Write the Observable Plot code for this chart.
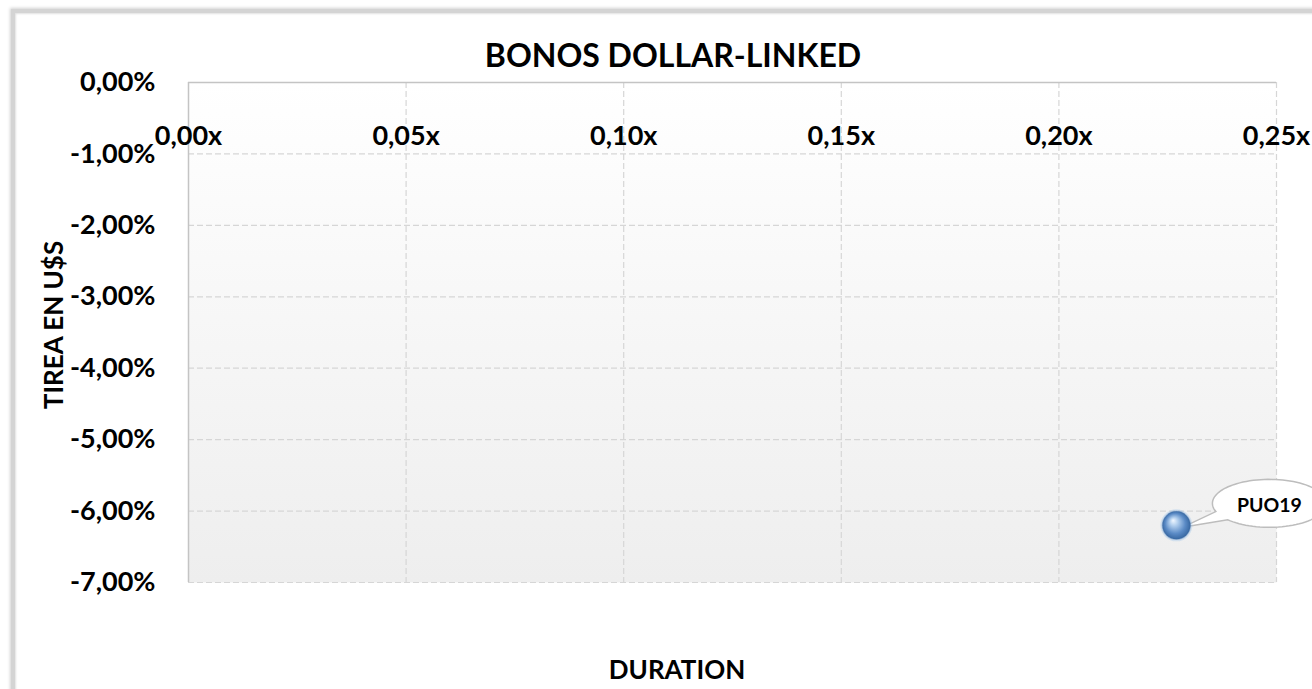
<!DOCTYPE html>
<html>
<head>
<meta charset="utf-8">
<script src="https://cdn.jsdelivr.net/npm/d3@7"></script>
<script src="https://cdn.jsdelivr.net/npm/@observablehq/plot@0.6"></script>
<style>
  html, body { margin: 0; padding: 0; background: #fff; overflow: hidden; }
  body { width: 1312px; height: 689px; position: relative; font-family: Lato, "Open Sans", sans-serif; }
  #border { position: absolute; left: 11px; top: 9px; width: 1400px; height: 800px;
            border-left: 4px solid #d4d4d4; border-top: 4px solid #d4d4d4;
            box-shadow: -1px -1px 3px rgba(0,0,0,0.18), inset 1px 1px 2px rgba(0,0,0,0.12); }
  #chart { position: absolute; left: 0; top: 0; }
  .lbl { position: absolute; font-weight: 700; color: #000; line-height: 1; white-space: nowrap;
         transform: translate(-50%, -50%); }
</style>
</head>
<body>
<div id="border"></div>
<div id="chart"></div>
<div class="lbl" style="left:673px; top:55px; font-size:32px;">BONOS DOLLAR-LINKED</div>
<div class="lbl" style="left:53px; top:325px; font-size:26px; transform: translate(-50%, -50%) rotate(-90deg);">TIREA EN U$S</div>
<div class="lbl" style="left:677px; top:669px; font-size:26px;">DURATION</div>
<script>
// ---- data ----
const bondNames = ["PUO19"];
const durations = [0.227];
const tireas = [-6.20];
const xTicks = [0, 0.05, 0.10, 0.15, 0.20, 0.25];
const yTicks = [0, -1, -2, -3, -4, -5, -6, -7];

const bonds = bondNames.map((n, i) => ({ name: n, duration: durations[i], tirea: tireas[i] }));

const fmtX = d => d.toFixed(2).replace(".", ",") + "x";
const fmtY = d => d.toFixed(2).replace(".", ",") + "%";

// callout bubble (ellipse + pointer) drawn relative to the point
const callout = {
  draw(ctx) {
    const cx = 93, cy = -22, rx = 57, ry = 24;
    const a0 = 160 * Math.PI / 180, a1 = 497 * Math.PI / 180;
    ctx.moveTo(6, 2);
    const n = 90;
    for (let i = 0; i <= n; i++) {
      const a = a0 + (a1 - a0) * i / n;
      ctx.lineTo(cx + rx * Math.cos(a), cy + ry * Math.sin(a));
    }
    ctx.closePath();
  }
};

const gridStyle = { stroke: "#d6d6d6", strokeWidth: 1.2, strokeDasharray: "6,3" };

const plot = Plot.plot({
  width: 1312,
  height: 689,
  marginLeft: 188,
  marginRight: 36,
  marginTop: 82,
  marginBottom: 107,
  style: { fontFamily: "Lato, 'Open Sans', sans-serif", background: "transparent", overflow: "hidden" },
  x: { domain: [0, 0.25] },
  y: { domain: [-7, 0] },
  marks: [
    Plot.frame({ fill: "url(#bgGrad)", stroke: "none" }),
    Plot.ruleX(xTicks.filter(d => d !== 0), gridStyle),
    Plot.ruleY(yTicks.filter(d => d !== 0), gridStyle),
    Plot.ruleY([0], { stroke: "#c4c4c4", strokeWidth: 1.5 }),
    Plot.ruleX([0], { stroke: "#c4c4c4", strokeWidth: 1.5 }),
    Plot.axisY(yTicks, { anchor: "left", tickSize: 0, tickPadding: 33, tickFormat: fmtY,
      fontSize: 27, fontWeight: "bold", fill: "#000", label: null }),
    Plot.axisX({ ticks: [], label: null }),
    Plot.text(xTicks, { x: d => d, frameAnchor: "top", dy: 43, text: fmtX,
      fontSize: 27, fontWeight: "bold", fill: "#000" }),
    Plot.dot(bonds, { x: "duration", y: "tirea", symbol: callout, r: 5,
      fill: "white", stroke: "#bdbdbd", strokeWidth: 1.5 }),
    Plot.text(bonds, { x: "duration", y: "tirea", text: "name", dx: 93, dy: -20,
      fontSize: 19.5, fontWeight: "bold", fill: "#000" }),
    Plot.dot(bonds, { x: "duration", y: "tirea", r: 16, fill: "#9cc3ea", fillOpacity: 0.35, stroke: "none" }),
    Plot.dot(bonds, { x: "duration", y: "tirea", r: 14, fill: "url(#sphereGrad)", stroke: "#3d6ea8", strokeOpacity: 0.35 })
  ]
});

const svg = d3.select(plot);
const defs = svg.insert("defs", ":first-child");
const bg = defs.append("linearGradient").attr("id", "bgGrad")
  .attr("x1", 0).attr("y1", 0).attr("x2", 0).attr("y2", 1);
bg.append("stop").attr("offset", "0%").attr("stop-color", "#ffffff");
bg.append("stop").attr("offset", "100%").attr("stop-color", "#eeeeee");
const sg = defs.append("radialGradient").attr("id", "sphereGrad")
  .attr("cx", "50%").attr("cy", "50%").attr("r", "55%").attr("fx", "38%").attr("fy", "32%");
sg.append("stop").attr("offset", "0%").attr("stop-color", "#f2f8ff");
sg.append("stop").attr("offset", "25%").attr("stop-color", "#b5d1ef");
sg.append("stop").attr("offset", "65%").attr("stop-color", "#5b8bc6");
sg.append("stop").attr("offset", "100%").attr("stop-color", "#2f5f98");

document.getElementById("chart").appendChild(plot);
</script>
</body>
</html>
